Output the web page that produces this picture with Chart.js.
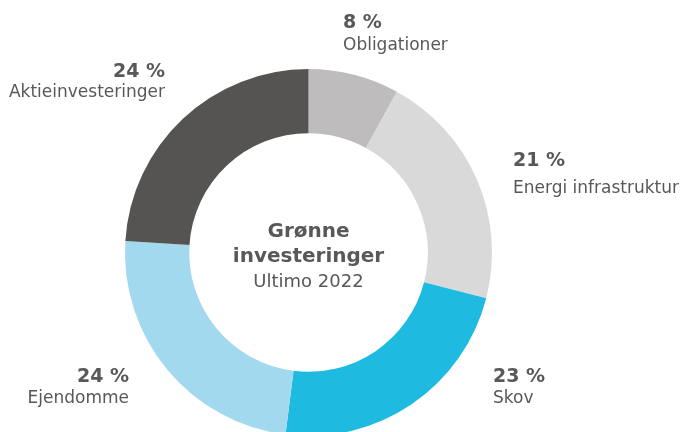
<!DOCTYPE html>
<html>
<head>
<meta charset="utf-8">
<script src="https://cdn.jsdelivr.net/npm/chart.js@4"></script>
<style>
  html, body { margin: 0; padding: 0; background: #fff; overflow: hidden; }
  #wrap { width: 681px; height: 460px; }
</style>
</head>
<body>
<div id="wrap"><canvas id="donut" width="681" height="460"></canvas></div>
<script>
// Andele af grønne investeringer (pct), læst fra figuren
const kategorier = ['Obligationer', 'Energi infrastruktur', 'Skov', 'Ejendomme', 'Aktieinvesteringer'];
const andele = [8, 21, 23, 24, 24];
const farver = ['#bebcbc', '#d9d9d9', '#1fbadf', '#a3d9ef', '#565452'];
const centerTekst = ['Grønne', 'investeringer', 'Ultimo 2022'];

// placering af etiketter i forhold til midten af ringen
const etiketPos = [
  { dx: 34.5, dy: -224.5, gap: 22, align: 'left' },
  { dx: 204.5, dy: -86.5, gap: 27, align: 'left' },
  { dx: 184.5, dy: 129.5, gap: 21, align: 'left' },
  { dx: -179.5, dy: 129.5, gap: 21, align: 'right' },
  { dx: -143.5, dy: -175.5, gap: 20, align: 'right' }
];

const tekstFarve = '#58585a';
const font = '"DejaVu Sans", sans-serif';

const etiketter = {
  id: 'etiketter',
  afterDraw(chart) {
    const ctx = chart.ctx;
    const arc = chart.getDatasetMeta(0).data[0];
    const cx = arc.x, cy = arc.y;
    ctx.save();
    ctx.fillStyle = tekstFarve;
    ctx.textBaseline = 'alphabetic';

    // tekst i midten
    ctx.textAlign = 'center';
    ctx.font = 'bold 20px ' + font;
    ctx.fillText(centerTekst[0], cx, cy - 15.5);
    ctx.fillText(centerTekst[1], cx, cy + 9.5);
    ctx.font = '18px ' + font;
    ctx.fillText(centerTekst[2], cx, cy + 34.5);

    // procent + navn ved hvert segment
    kategorier.forEach((navn, i) => {
      const p = etiketPos[i];
      ctx.textAlign = p.align;
      ctx.font = 'bold 19px ' + font;
      ctx.fillText(andele[i] + ' %', cx + p.dx, cy + p.dy);
      ctx.font = '17px ' + font;
      ctx.fillText(navn, cx + p.dx, cy + p.dy + p.gap);
    });
    ctx.restore();
  }
};

new Chart(document.getElementById('donut'), {
  type: 'doughnut',
  data: {
    labels: kategorier,
    datasets: [{
      data: andele,
      backgroundColor: farver,
      borderWidth: 0
    }]
  },
  options: {
    responsive: false,
    animation: false,
    cutout: '65%',
    layout: { padding: { top: 69, bottom: 24, left: 125, right: 189 } },
    plugins: {
      legend: { display: false },
      tooltip: { enabled: false }
    }
  },
  plugins: [etiketter]
});
</script>
</body>
</html>
